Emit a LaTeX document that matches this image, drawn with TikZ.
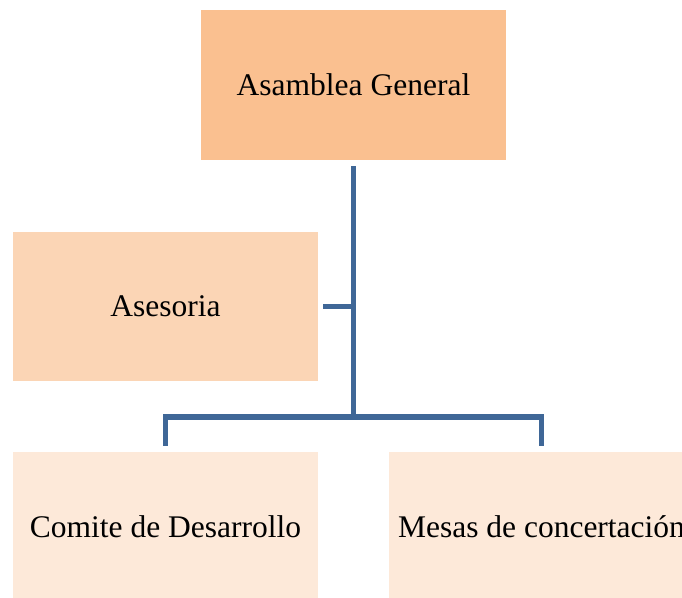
\documentclass[tikz,border=0pt]{standalone}
\usepackage{fontspec}
\setmainfont{Liberation Serif}
\usepackage{tikz}

\definecolor{orgA}{HTML}{FAC090}
\definecolor{orgB}{HTML}{FBD5B5}
\definecolor{orgC}{HTML}{FDE9D9}
\definecolor{linkblue}{HTML}{3F6797}

\tikzset{
  orgbox/.style={minimum width=305pt, minimum height=150pt, inner sep=0pt,
    font=\fontsize{31.5}{38}\selectfont},
  link/.style={draw=linkblue, line width=5.5pt, line join=miter}
}

\begin{document}
\begin{tikzpicture}[x=1pt, y=1pt]
        \clip (0, 0) rectangle (682, 597);
        \node [orgbox, fill=orgA] (ag) at (353.5, 512) {Asamblea General};
        \node [orgbox, fill=orgB, minimum height=149pt] (as) at (165.5, 290.5) {Asesoria};
        \node [orgbox, fill=orgC] (cd) at (165.5, 70) {Comite de Desarrollo};
        \node [orgbox, fill=orgC] (mc) at (541.5, 70) {Mesas de concertación};
        \coordinate (hub) at (353.5, 180);

        \draw [link, shorten <=6pt] (ag.south) -- (hub);
        \draw [link, shorten <=5pt] (as.east) -- (as.east -| hub);
        \draw [link, shorten <=6pt, shorten >=6pt] (cd.north) |- (hub) -| (mc.north);
      \end{tikzpicture}
\end{document}
